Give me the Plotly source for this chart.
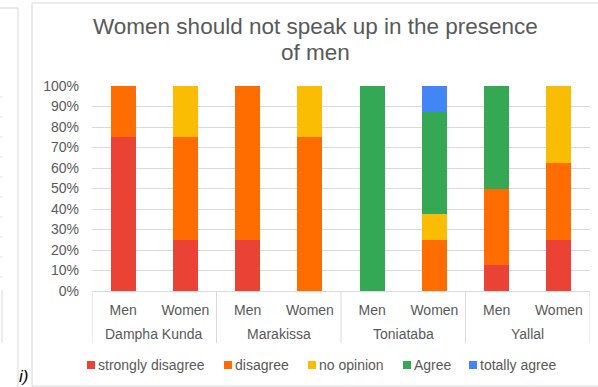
import plotly.graph_objects as go

# Survey responses (% of respondents) per village and gender
villages = ["Dampha Kunda", "Marakissa", "Toniataba", "Yallal"]
genders = ["Men", "Women"]

strongly_disagree = [75, 25, 25, 0, 0, 0, 12.5, 25]
disagree = [25, 50, 75, 75, 0, 25, 37.5, 37.5]
no_opinion = [0, 25, 0, 25, 0, 12.5, 0, 37.5]
agree = [0, 0, 0, 0, 100, 50, 50, 0]
totally_agree = [0, 0, 0, 0, 0, 12.5, 0, 0]

series_names = ["strongly disagree", "disagree", "no opinion", "Agree", "totally agree"]
series_values = [strongly_disagree, disagree, no_opinion, agree, totally_agree]
series_colors = ["#ea4335", "#ff6d01", "#fbbc04", "#34a853", "#4285f4"]

y_ticks = [0, 10, 20, 30, 40, 50, 60, 70, 80, 90, 100]
y_tick_labels = ["0%", "10%", "20%", "30%", "40%", "50%", "60%", "70%", "80%", "90%", "100%"]

title_lines = ["Women should not speak up in the presence", "of men"]

# one slot per village/gender pair, villages as groups of two
n_sub = len(genders)
x_pos = list(range(len(villages) * n_sub))
x_labels = [g for _ in villages for g in genders]

W, H = 598, 387
L, R, T, B = 92, 8, 86, 96
PW, PH = W - L - R, H - T - B


def px(x):
    return (x - L) / PW


def py(y):
    return (H - B - y) / PH


TEXT = "#595959"
GRID = "#d9d9d9"
FONT = "Liberation Sans, Arial, sans-serif"

fig = go.Figure()
for name, vals, color in zip(series_names, series_values, series_colors):
    fig.add_trace(go.Bar(
        x=x_pos,
        y=vals,
        name=name,
        marker=dict(color=color, line=dict(width=0)),
        showlegend=False,
    ))

shapes = []
annotations = []

# group dividers and village labels under the gender labels
for i, village in enumerate(villages):
    left = i * n_sub - 0.5
    shapes.append(dict(type="line", xref="x", yref="paper",
                       x0=left, x1=left, y0=py(291), y1=py(343),
                       line=dict(color=GRID, width=1)))
    annotations.append(dict(xref="x", yref="paper", x=left + n_sub / 2, y=py(334),
                            xanchor="center", yanchor="middle", showarrow=False,
                            text=village, font=dict(family=FONT, size=14, color=TEXT)))
right = len(x_pos) - 0.5
shapes.append(dict(type="line", xref="x", yref="paper",
                   x0=right, x1=right, y0=py(291), y1=py(343),
                   line=dict(color=GRID, width=1)))

# chart frame
shapes.append(dict(type="rect", xref="paper", yref="paper",
                   x0=px(32), x1=px(610), y0=py(386), y1=py(3),
                   line=dict(color=GRID, width=1), fillcolor="rgba(0,0,0,0)", layer="below"))
# edge of the neighbouring panel on the left
shapes.append(dict(type="line", xref="paper", yref="paper",
                   x0=px(18), x1=px(18), y0=py(8), y1=py(392),
                   line=dict(color=GRID, width=1)))
shapes.append(dict(type="line", xref="paper", yref="paper",
                   x0=px(-2), x1=px(18), y0=py(8), y1=py(8),
                   line=dict(color=GRID, width=1)))
for gy in range(97, 280, 20):
    shapes.append(dict(type="line", xref="paper", yref="paper",
                       x0=px(-1), x1=px(3), y0=py(gy), y1=py(gy),
                       line=dict(color="#e6e6e6", width=1)))
shapes.append(dict(type="line", xref="paper", yref="paper",
                   x0=px(2), x1=px(2), y0=py(290), y1=py(343),
                   line=dict(color=GRID, width=1)))

# legend: coloured squares followed by labels
legend_text_x = [97, 234, 318, 413, 479]
legend_y = 365
for name, color, tx in zip(series_names, series_colors, legend_text_x):
    shapes.append(dict(type="rect", xref="paper", yref="paper",
                       x0=px(tx - 10), x1=px(tx - 2),
                       y0=py(legend_y + 4), y1=py(legend_y - 4),
                       line=dict(width=0), fillcolor=color))
    annotations.append(dict(xref="paper", yref="paper", x=px(tx - 1), y=py(legend_y),
                            xanchor="left", yanchor="middle", showarrow=False,
                            text=name, font=dict(family=FONT, size=14, color=TEXT)))

# panel tag
annotations.append(dict(xref="paper", yref="paper", x=px(17), y=py(376),
                        xanchor="left", yanchor="middle", showarrow=False,
                        text="<i>i)</i>", font=dict(family=FONT, size=17, color="#000000")))

# two-line title, centred over the frame with tight line spacing
for line_text, line_y in zip(title_lines, [27, 52]):
    annotations.append(dict(xref="paper", yref="paper", x=px(315), y=py(line_y),
                            xanchor="center", yanchor="middle", showarrow=False,
                            text=line_text,
                            font=dict(family=FONT, size=22.5, color=TEXT)))

fig.update_layout(
    width=W, height=H,
    margin=dict(l=L, r=R, t=T, b=B),
    paper_bgcolor="white", plot_bgcolor="white",
    barmode="stack", bargap=0.6,
    font=dict(family=FONT, size=14, color=TEXT),
    shapes=shapes,
    annotations=annotations,
    showlegend=False,
)
fig.update_yaxes(range=[0, 100], tickmode="array", tickvals=y_ticks, ticktext=y_tick_labels,
                 showgrid=True, gridcolor=GRID, gridwidth=1, zeroline=False,
                 showline=False, ticks="", ticklabelstandoff=12,
                 tickfont=dict(family=FONT, size=14, color=TEXT))
fig.update_xaxes(range=[-0.5, len(x_pos) - 0.5], tickmode="array",
                 tickvals=x_pos, ticktext=x_labels,
                 showgrid=False, zeroline=False,
                 showline=True, linecolor=GRID, linewidth=1,
                 ticks="", ticklabelstandoff=6,
                 tickfont=dict(family=FONT, size=14, color=TEXT))

fig.write_html("out.html")
